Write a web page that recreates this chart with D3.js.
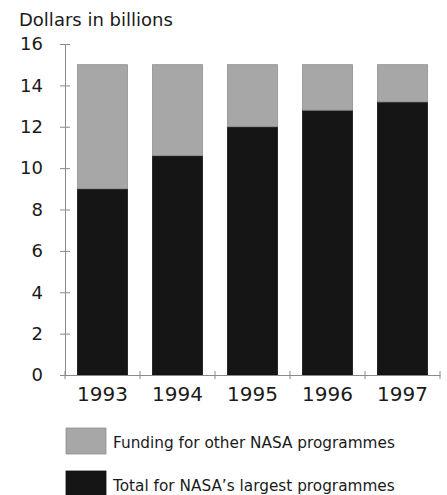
<!DOCTYPE html>
<html>
<head>
<meta charset="utf-8">
<script src="https://cdn.jsdelivr.net/npm/d3@7"></script>
<style>
  body { margin: 0; background: #fff; }
  svg { display: block; }
  text { font-family: "DejaVu Sans", sans-serif; fill: #1a1a1a; }
</style>
</head>
<body>
<div id="chart"></div>
<script>
'use strict'
// data
var years = ["1993", "1994", "1995", "1996", "1997"];
var largest = [9.0, 10.6, 12.0, 12.8, 13.2];   // total for NASA's largest programmes
var other = [6.0, 4.4, 3.0, 2.2, 1.8];         // funding for other programmes
var yTicks = [0, 2, 4, 6, 8, 10, 12, 14, 16];
var legendLabels = ["Funding for other NASA programmes", "Total for NASA\u2019s largest programmes"];

var width = 447, height = 495;
var colors = { other: "#a7a7a7", largest: "#151515", axis: "#8a8a8a" };

var svg = d3.select("#chart").append("svg")
    .attr("width", width)
    .attr("height", height);

var x = d3.scaleBand()
    .domain(years)
    .range([65, 440])
    .paddingInner(1 / 3)
    .paddingOuter(1 / 6);

var y = d3.scaleLinear()
    .domain([0, 16])
    .range([375, 44]);

// stacked rows
var rows = years.map(function(yr, i){
    return { year: yr, largest: largest[i], other: other[i] };
});
var stack = d3.stack().keys(["largest", "other"])(rows);

svg.append("g").selectAll("g")
    .data(stack)
    .enter().append("g")
    .attr("fill", function(s){ return colors[s.key]; })
    .attr("stroke", function(s){ return s.key === "other" ? "#8f8f8f" : "#111"; })
    .attr("stroke-width", 0.8)
    .selectAll("rect")
    .data(function(s){ return s; })
    .enter().append("rect")
    .attr("x", function(d){ return x(d.data.year); })
    .attr("width", x.bandwidth())
    .attr("y", function(d){ return y(d[1]); })
    .attr("height", function(d){ return y(d[0]) - y(d[1]); });

// y axis
var yAxis = svg.append("g")
    .attr("transform", "translate(65,0)")
    .call(d3.axisLeft(y).tickValues(yTicks).tickSize(5).tickPadding(18));
yAxis.select(".domain").attr("stroke", colors.axis);
yAxis.selectAll(".tick line").attr("stroke", colors.axis).attr("x2", 5).attr("x1", -5);
yAxis.selectAll(".tick text")
    .attr("font-family", "DejaVu Sans, sans-serif")
    .attr("font-size", 18)
    .attr("fill", "#1a1a1a")
    .attr("x", -22);

// x axis: ticks sit between the bars
var xAxis = svg.append("g")
    .attr("transform", "translate(0,375)")
    .call(d3.axisBottom(x).tickSize(0).tickPadding(12));
xAxis.select(".domain").attr("stroke", colors.axis);
xAxis.selectAll(".tick text")
    .attr("font-family", "DejaVu Sans, sans-serif")
    .attr("font-size", 20)
    .attr("fill", "#1a1a1a");

var step = x.step();
var bounds = years.map(function(yr){ return x(yr) - step * x.paddingInner() / 2; });
bounds.push(x.range()[1]);
xAxis.selectAll(".sep")
    .data(bounds)
    .enter().append("line")
    .attr("class", "sep")
    .attr("x1", function(d){ return d; })
    .attr("x2", function(d){ return d; })
    .attr("y1", -4)
    .attr("y2", 4)
    .attr("stroke", colors.axis);

// title
svg.append("text")
    .attr("x", 19)
    .attr("y", 26)
    .attr("font-size", 18)
    .text("Dollars in billions");

// legend
var legend = svg.append("g").selectAll("g")
    .data(legendLabels)
    .enter().append("g")
    .attr("transform", function(d, i){ return "translate(66," + (428 + i * 43) + ")"; });

legend.append("rect")
    .attr("width", 40)
    .attr("height", 26)
    .attr("fill", function(d, i){ return i === 0 ? colors.other : colors.largest; })
    .attr("stroke", function(d, i){ return i === 0 ? "#8f8f8f" : "#111"; })
    .attr("stroke-width", 0.8);

legend.append("text")
    .attr("x", 47)
    .attr("y", 20)
    .attr("font-family", "Liberation Sans, sans-serif")
    .attr("font-size", 15.3)
    .text(function(d){ return d; });
</script>
</body>
</html>
